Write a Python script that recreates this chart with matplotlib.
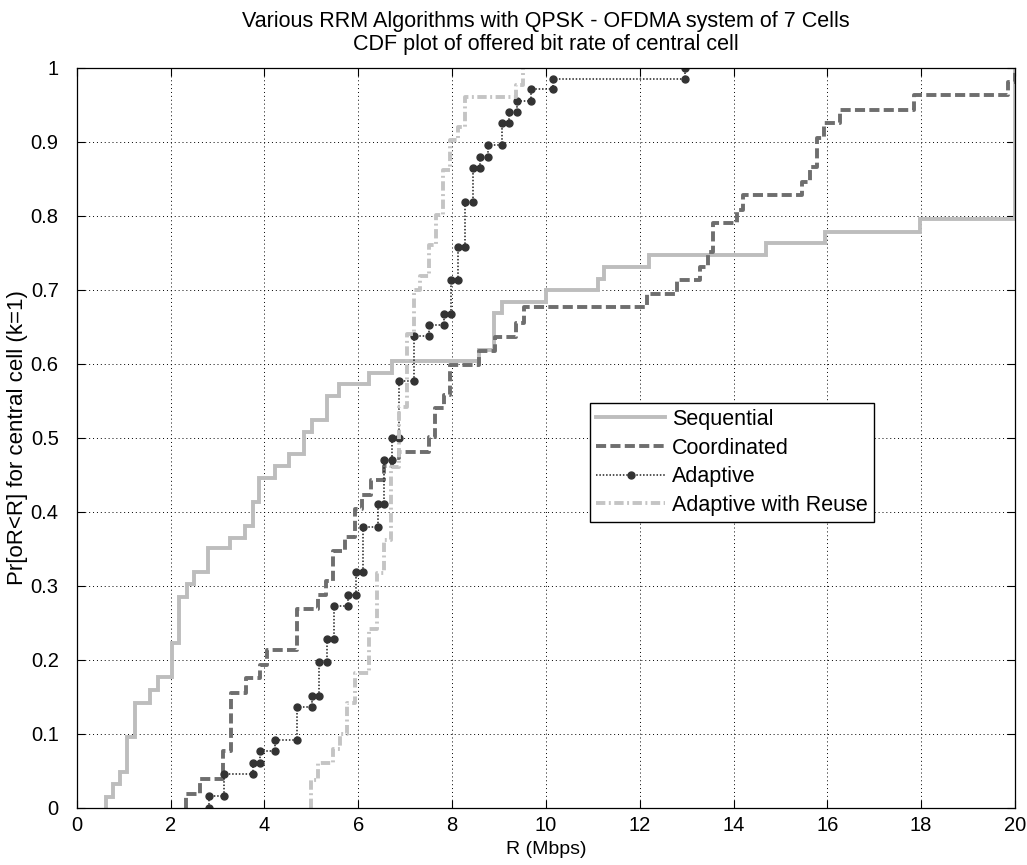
import matplotlib
matplotlib.use("Agg")
import matplotlib.pyplot as plt
import numpy as np

plt.rcParams['font.family'] = ['Liberation Sans', 'DejaVu Sans']

# ---- data (step positions in Mbps and CDF level after each step) ----
seq_x = [0.62, 0.78, 0.92, 1.08, 1.24, 1.56, 1.74, 2.03, 2.19, 2.36, 2.51, 2.79, 3.27,
         3.59, 3.75, 3.89, 4.22, 4.52, 4.84, 5.01, 5.33, 5.60, 6.24, 6.72, 8.58, 8.90,
         9.06, 10.0, 11.12, 11.25, 12.2, 14.69, 15.95, 17.98, 19.99]
seq_y = [0.015, 0.032, 0.048, 0.096, 0.142, 0.159, 0.176, 0.222, 0.285, 0.302, 0.318,
         0.351, 0.365, 0.381, 0.413, 0.445, 0.462, 0.478, 0.508, 0.524, 0.557, 0.572,
         0.588, 0.604, 0.619, 0.668, 0.684, 0.700, 0.715, 0.731, 0.747, 0.763, 0.778,
         0.795, 1.0]

coord_x = [2.34, 2.63, 3.11, 3.28, 3.60, 3.91, 4.05, 4.70, 5.15, 5.31, 5.47, 5.72, 5.93,
           6.08, 6.27, 6.55, 6.72, 6.88, 7.50, 7.64, 7.82, 7.96, 8.57, 8.92, 9.37, 9.54,
           12.15, 12.79, 13.29, 13.45, 13.57, 14.07, 14.20, 15.46, 15.64, 15.78, 15.92,
           16.26, 17.84, 19.86, 19.99]
coord_y = [0.019, 0.039, 0.076, 0.155, 0.175, 0.193, 0.213, 0.269, 0.287, 0.306, 0.347,
           0.366, 0.404, 0.422, 0.443, 0.462, 0.472, 0.481, 0.501, 0.540, 0.558, 0.598,
           0.617, 0.636, 0.655, 0.676, 0.694, 0.713, 0.731, 0.751, 0.790, 0.808, 0.828,
           0.846, 0.866, 0.905, 0.925, 0.943, 0.963, 0.981, 1.0]

adapt_x = [2.81, 3.13, 3.75, 3.91, 4.23, 4.69, 5.01, 5.17, 5.33, 5.49, 5.79, 5.96, 6.10,
           6.42, 6.56, 6.72, 6.88, 7.19, 7.51, 7.82, 7.97, 8.12, 8.28, 8.44, 8.60, 8.76,
           9.06, 9.22, 9.38, 9.68, 10.16, 12.97]
adapt_y = [0.016, 0.045, 0.061, 0.076, 0.091, 0.136, 0.151, 0.197, 0.228, 0.273, 0.288,
           0.319, 0.380, 0.410, 0.470, 0.500, 0.577, 0.637, 0.652, 0.667, 0.713, 0.758,
           0.819, 0.864, 0.880, 0.895, 0.925, 0.940, 0.955, 0.971, 0.985, 1.0]

reuse_x = [4.99, 5.14, 5.46, 5.61, 5.77, 5.93, 6.22, 6.40, 6.54, 6.70, 6.88, 7.04, 7.18,
           7.32, 7.50, 7.66, 7.80, 7.96, 8.12, 8.28, 9.36, 9.52]
reuse_y = [0.037, 0.060, 0.080, 0.100, 0.141, 0.182, 0.242, 0.317, 0.362, 0.461, 0.542,
           0.640, 0.700, 0.718, 0.760, 0.801, 0.862, 0.902, 0.920, 0.961, 0.977, 1.0]

labels = ["Sequential", "Coordinated", "Adaptive", "Adaptive with Reuse"]
title_lines = ["Various RRM Algorithms with QPSK - OFDMA system of 7 Cells",
               "CDF plot of offered bit rate of central cell"]


def stairs(xs, ys):
    px, py = [xs[0]], [0.0]
    for i in range(len(xs)):
        px.append(xs[i]); py.append(ys[i])
        if i + 1 < len(xs):
            px.append(xs[i + 1]); py.append(ys[i])
    return np.array(px), np.array(py)


fig = plt.figure(figsize=(10.27, 8.65), dpi=100)
ax = fig.add_axes([0.0747, 0.0662, 0.9136, 0.8555])

x, y = stairs(seq_x, seq_y)
ax.plot(x, y, color='#bdbdbd', lw=2.8, solid_joinstyle='miter', label=labels[0])

x, y = stairs(coord_x, coord_y)
ax.plot(x, y, color='#6e6e6e', lw=2.8, dashes=(2.6, 1.1), label=labels[1])

x, y = stairs(adapt_x, adapt_y)
ax.plot(x, y, color='#202020', lw=1.1, linestyle=(0, (1, 1.2)), marker='o',
        markersize=5, markerfacecolor='#333333', markeredgecolor='#333333',
        label=labels[2])

x, y = stairs(reuse_x, reuse_y)
ax.plot(x, y, color='#c4c4c4', lw=2.8, dashes=(2.4, 0.9, 0.5, 0.9), label=labels[3])

ax.set_xlim(0, 20)
ax.set_ylim(0, 1)
ax.set_xticks(np.arange(0, 21, 2))
ax.set_yticks(np.arange(0, 1.01, 0.1))
ax.set_yticklabels(['0', '0.1', '0.2', '0.3', '0.4', '0.5', '0.6', '0.7', '0.8', '0.9', '1'])
ax.tick_params(direction='in', top=True, right=True, labelsize=14.5, length=6, width=0.8)
ax.tick_params(axis='x', pad=6)
ax.tick_params(axis='y', pad=13)
ax.grid(True, color='black', linestyle=(0, (1, 3)), linewidth=0.7)
for s in ax.spines.values():
    s.set_linewidth(0.9)

ax.set_xlabel("R (Mbps)", fontsize=14, labelpad=4)
ax.set_ylabel("Pr[oR<R] for central cell (k=1)", fontsize=16, labelpad=2)
ax.set_title("\n".join(title_lines), fontsize=15.5, linespacing=1.1, pad=13)

leg = ax.legend(loc='lower left', bbox_to_anchor=(0.547, 0.386), fontsize=15.5,
                fancybox=False, edgecolor='black', framealpha=1, numpoints=1,
                handlelength=3.2, borderpad=0.3, labelspacing=0.35, handletextpad=0.3,
                borderaxespad=0)
leg.get_frame().set_linewidth(1.0)

fig.savefig("out.png", dpi=100)
